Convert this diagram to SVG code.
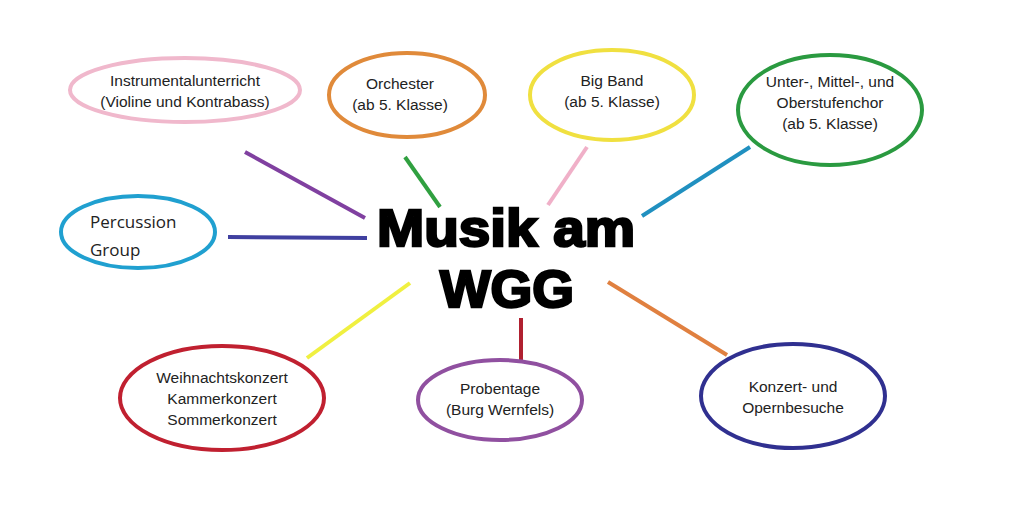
<svg xmlns="http://www.w3.org/2000/svg" width="1009" height="507" viewBox="0 0 1009 507">
<style>
.n{fill:#fff;stroke-width:4}
.t{font-family:"Liberation Sans",Arial,sans-serif;font-size:15.5px;fill:#222;text-anchor:middle}
.c line{stroke-width:4}
.h{font-family:"Liberation Sans",Arial,sans-serif;font-weight:bold;font-size:52px;fill:#000;stroke:#000;stroke-width:2.5;text-anchor:middle}
</style>
<rect width="1009" height="507" fill="#fff"/>
<g class="c">
<line x1="245" y1="152" x2="365" y2="218" stroke="#8040a0"/>
<line x1="405" y1="157" x2="440" y2="207" stroke="#30a040"/>
<line x1="587" y1="147" x2="548" y2="205" stroke="#f0b0c8"/>
<line x1="750" y1="147" x2="642" y2="216" stroke="#2090c0"/>
<line x1="228" y1="237" x2="367" y2="238" stroke="#4040a0"/>
<line x1="410" y1="283" x2="307" y2="358" stroke="#f0f040"/>
<line x1="521" y1="318" x2="521" y2="360" stroke="#b02030"/>
<line x1="608" y1="282" x2="727" y2="355" stroke="#e08040"/>
</g>
<g id="center"><text class="h" x="506" y="246" textLength="258" lengthAdjust="spacingAndGlyphs">Musik am</text><text class="h" x="507" y="307" textLength="134" lengthAdjust="spacingAndGlyphs">WGG</text></g>
<g id="n1"><ellipse class="n" cx="185" cy="90" rx="115" ry="32" stroke="#f0b8cc"/><text class="t" x="185" y="86">Instrumentalunterricht</text><text class="t" x="185" y="107">(Violine und Kontrabass)</text></g>
<g id="n2"><ellipse class="n" cx="407" cy="95" rx="78" ry="42" stroke="#e08a3a"/><text class="t" x="400" y="89">Orchester</text><text class="t" x="400" y="110">(ab 5. Klasse)</text></g>
<g id="n3"><ellipse class="n" cx="612" cy="95" rx="82" ry="45" stroke="#f0e040"/><text class="t" x="612" y="86">Big Band</text><text class="t" x="612" y="107">(ab 5. Klasse)</text></g>
<g id="n4"><ellipse class="n" cx="830" cy="110" rx="92" ry="55" stroke="#2a9a40"/><text class="t" x="830" y="87">Unter-, Mittel-, und</text><text class="t" x="830" y="108">Oberstufenchor</text><text class="t" x="830" y="129">(ab 5. Klasse)</text></g>
<g id="n5"><ellipse class="n" cx="138" cy="232" rx="77" ry="36" stroke="#20a0d0"/><text class="t" x="90" y="228" style="text-anchor:start;font-family:'Open Sans',sans-serif;font-size:17px">Percussion</text><text class="t" x="90" y="256" style="text-anchor:start;font-family:'Open Sans',sans-serif;font-size:17px">Group</text></g>
<g id="n6"><ellipse class="n" cx="222" cy="398" rx="102" ry="52" stroke="#c02030"/><text class="t" x="222" y="383">Weihnachtskonzert</text><text class="t" x="222" y="404">Kammerkonzert</text><text class="t" x="222" y="425">Sommerkonzert</text></g>
<g id="n7"><ellipse class="n" cx="500" cy="400" rx="82" ry="40" stroke="#9050a0"/><text class="t" x="500" y="394">Probentage</text><text class="t" x="500" y="415">(Burg Wernfels)</text></g>
<g id="n8"><ellipse class="n" cx="793" cy="396" rx="92" ry="52" stroke="#303090"/><text class="t" x="793" y="392">Konzert- und</text><text class="t" x="793" y="413">Opernbesuche</text></g>
</svg>
